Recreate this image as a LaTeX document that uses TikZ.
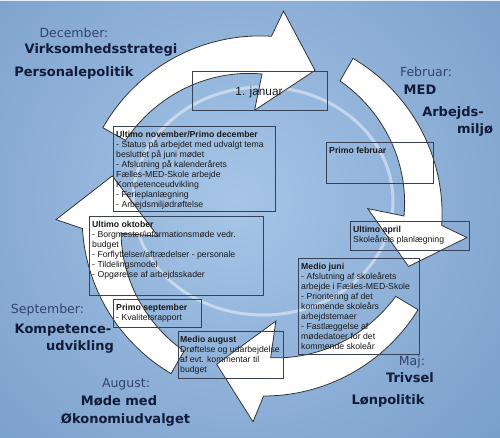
\documentclass[tikz,border=0pt]{standalone}
\usepackage{fontspec}
\setmainfont{Liberation Sans}
\newfontfamily\verd{DejaVu Sans}
\definecolor{bgin}{RGB}{166,197,231}
\definecolor{bgout}{RGB}{86,128,181}
\definecolor{navy}{RGB}{20,27,56}
\definecolor{slate}{RGB}{50,68,108}
\definecolor{boxline}{RGB}{55,66,88}

% white arc arrow around the year: tail angle, base angle, tip angle
\newcommand{\cyclearrow}[3]{%
  \pgfmathsetmacro\aout{#2-2}%
  \pgfmathsetmacro\ain{#2+1}%
  \filldraw[arrowbody]
    plot[domain=#1:\aout, samples=40]
      ({262+(182-2*(\x-(#1))/(\aout-(#1)))*cos(\x)}, {216-(182-2*(\x-(#1))/(\aout-(#1)))*sin(\x)})
    -- ({262+206*cos((#2)-5)}, {216-206*sin((#2)-5)})
    -- ({262+155*cos(#3)}, {216-155*sin(#3)})
    -- ({262+106*cos((#2)+5)}, {216-106*sin((#2)+5)})
    -- plot[domain=\ain:#1, samples=40]
      ({262+(156-14*(\x-(#1))/(\ain-(#1)))*cos(\x)}, {216-(156-14*(\x-(#1))/(\ain-(#1)))*sin(\x)})
    -- cycle;}

\begin{document}
\begin{tikzpicture}[x=1pt, y=-1pt,
    arrowbody/.style={fill=white, draw=black!80, line width=0.8pt},
    frame/.style={draw=boxline, line width=0.7pt},
    boxtext/.style={anchor=north west, inner sep=0pt, align=left, text=black!90,
                    font=\fontsize{8.7}{10}\selectfont},
    month/.style={anchor=base, inner sep=0pt, text=slate, font=\verd\fontsize{12.5}{14}\selectfont},
    topic/.style={anchor=base, inner sep=0pt, text=navy, font=\verd\bfseries\fontsize{13}{15}\selectfont}]

    % background
    \useasboundingbox (0,0) rectangle (500,438);
    \begin{scope}
        \clip (0,0) rectangle (500,438);
        \fill[bgout] (0,0) rectangle (500,438);
        \shade[inner color=bgin, outer color=bgout] (235,200) circle (640pt);
        \fill[white!75!bgin] (0,0) rectangle (500,1.5);
    \end{scope}

    % faint ring
    \draw[white, opacity=0.45, line width=3pt] (263,201) ellipse (130pt and 114pt);

    % the four arrows
    \cyclearrow{151}{89}{70}
    \cyclearrow{60}{-1}{-19}
    \cyclearrow{-31}{-87.5}{-107}
    \cyclearrow{240}{186}{165}

    % boxes
    \draw[frame] (192,71) rectangle (327,110);
    \node[inner sep=0pt, font=\fontsize{11.8}{14}\selectfont, text=black!90] (jan) at (259,92) {1. januar};

    \draw[frame] (113,126) rectangle (275,211);
    \node[boxtext] (novdec) at (116,130.5) {\textbf{Ultimo november/Primo december}\\
        - Status på arbejdet med udvalgt tema\\
        besluttet på juni mødet\\
        - Afslutning på kalenderårets\\
        Fælles-MED-Skole arbejde\\
        Kompetenceudvikling\\
        - Ferieplanlægning\\
        - Arbejdsmiljødrøftelse};

    \draw[frame] (89,216) rectangle (263,295);
    \node[boxtext] (okt) at (92,220.5) {\textbf{Ultimo oktober}\\
        - Borgmester/informationsmøde vedr.\\
        budget\\
        - Forflyttelser/aftrædelser - personale\\
        - Tildelingsmodel\\
        - Opgørelse af arbejdsskader};

    \draw[frame] (113,299) rectangle (201,327);
    \node[boxtext] (sept) at (116,303.5) {\textbf{Primo september}\\
        - Kvalitetsrapport};

    \draw[frame] (178,331) rectangle (283,378);
    \node[boxtext] (augbox) at (180,335.5) {\textbf{Medio august}\\
        Drøftelse og udarbejdelse\\
        af evt. kommentar til\\
        budget};

    \draw[frame] (298,258) rectangle (419,354);
    \node[boxtext] (juni) at (301,262.5) {\textbf{Medio juni}\\
        - Afslutning af skoleårets\\
        arbejde i Fælles-MED-Skole\\
        - Prioritering af det\\
        kommende skoleårs\\
        arbejdstemaer\\
        - Fastlæggelse af\\
        mødedatoer for det\\
        kommende skoleår};

    \draw[frame] (350,221) rectangle (469,250);
    \node[boxtext] (april) at (353,225.5) {\textbf{Ultimo april}\\
        Skoleårets planlægning};

    \draw[frame] (326,142) rectangle (433,183);
    \node[boxtext] (febbox) at (329,146.5) {\textbf{Primo februar}};

    % month labels
    \node[month] (dec) at (74,38) {December:};
    \node[topic] (virk) at (101,53.5) {Virksomhedsstrategi};
    \node[topic] (pers) at (74,77) {Personalepolitik};

    \node[month] (feb) at (426,77) {Februar:};
    \node[topic] (med) at (420,95) {MED};
    \node[topic] (arb) at (453,117) {Arbejds-};
    \node[topic] (milj) at (475,133.5) {miljø};

    \node[month] (maj) at (412,365) {Maj:};
    \node[topic] (triv) at (410,382) {Trivsel};
    \node[topic] (lon) at (388,404) {Lønpolitik};

    \node[month] (aug) at (126,387) {August:};
    \node[topic] (mode) at (119,405) {Møde med};
    \node[topic] (oko) at (125.5,423) {Økonomiudvalget};

    \node[month] (sep) at (47.5,313) {September:};
    \node[topic] (komp) at (63,333) {Kompetence-};
    \node[topic] (udv) at (80,350) {udvikling};

\end{tikzpicture}
\end{document}
